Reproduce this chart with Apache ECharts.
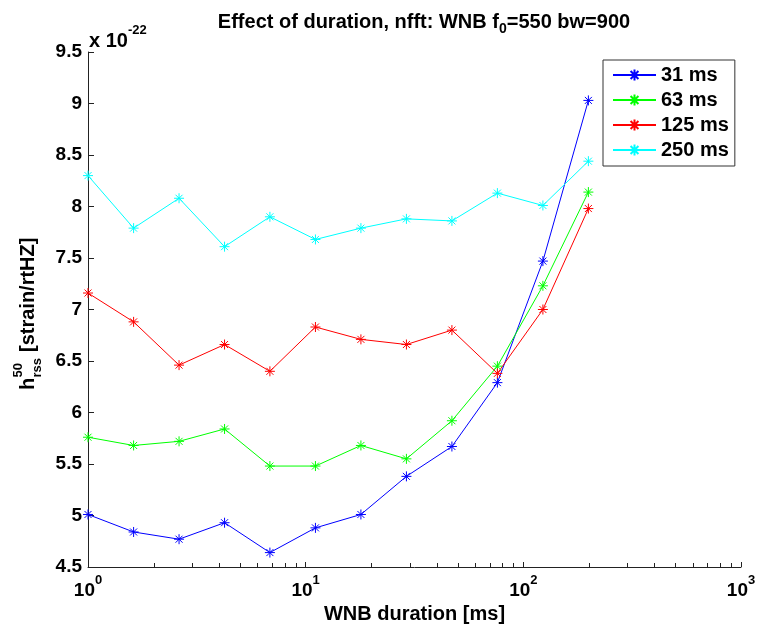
<!DOCTYPE html>
<html>
<head>
<meta charset="utf-8">
<script src="https://cdn.jsdelivr.net/npm/echarts@6/dist/echarts.min.js"></script>
<style>
html,body{margin:0;padding:0;background:#fff;}
#chart{width:758px;height:627px;}
</style>
</head>
<body>
<div id="chart"></div>
<script>
// WNB duration [ms]
const durations = [1, 1.62, 2.62, 4.24, 6.85, 11.09, 17.94, 29.03, 46.98, 76.01, 122.99, 199.01];
// h_rss^50 in units of 1e-22 strain/rtHz
const s31  = [5.01, 4.84, 4.77, 4.93, 4.64, 4.88, 5.01, 5.38, 5.67, 6.29, 7.47, 9.03];
const s63  = [5.76, 5.68, 5.72, 5.84, 5.48, 5.48, 5.68, 5.55, 5.92, 6.45, 7.23, 8.14];
const s125 = [7.16, 6.88, 6.46, 6.66, 6.40, 6.83, 6.71, 6.66, 6.80, 6.38, 7.00, 7.98];
const s250 = [8.30, 7.79, 8.08, 7.61, 7.90, 7.68, 7.79, 7.88, 7.86, 8.13, 8.01, 8.44];
const seriesNames = ['31 ms', '63 ms', '125 ms', '250 ms'];
const seriesColors = ['#0000ff', '#00ff00', '#ff0000', '#00ffff'];
const minorTickValues = [2,3,4,5,6,7,8,9,20,30,40,50,60,70,80,90,200,300,400,500,600,700,800,900];

const FONT = '"Liberation Sans", Arial, sans-serif';
const ASTERISK = 'path://M5 0L5 10M0 5L10 5M1.5 1.5L8.5 8.5M8.5 1.5L1.5 8.5';

const chart = echarts.init(document.getElementById('chart'), null, {renderer: 'canvas'});

function mkSeries(name, vals, color) {
  return {
    name: name,
    type: 'line',
    data: durations.map((d, i) => [d, vals[i]]),
    symbol: ASTERISK,
    symbolSize: 10,
    showAllSymbol: true,
    color: color,
    lineStyle: {color: color, width: 1},
    itemStyle: {color: color, borderColor: color, borderWidth: 1},
    emphasis: {disabled: true},
    animation: false,
    z: 3
  };
}

const option = {
  animation: false,
  backgroundColor: '#fff',
  title: {
    text: '{a|Effect of duration, nfft: WNB f}{s|0}{a|=550 bw=900}',
    left: 419,
    textAlign: 'center',
    top: 7,
    textStyle: {
      rich: {
        a: {fontFamily: FONT, fontSize: 20, fontWeight: 'bold', color: '#000', lineHeight: 20, verticalAlign: 'top'},
        s: {fontFamily: FONT, fontSize: 14, fontWeight: 'bold', color: '#000', lineHeight: 24, verticalAlign: 'bottom'}
      }
    }
  },
  grid: {left: 88, right: 17, top: 52, bottom: 60, containLabel: false, outerBoundsMode: 'none'},
  legend: {
    data: seriesNames,
    orient: 'vertical',
    left: 603,
    top: 60,
    padding: [5, 6, 6, 9],
    itemWidth: 43,
    itemHeight: 14,
    itemGap: 5,
    itemTextGap: 5,
    borderColor: '#333',
    borderWidth: 1,
    borderRadius: 0,
    backgroundColor: '#fff',
    textStyle: {fontFamily: FONT, fontSize: 20, fontWeight: 'bold', color: '#000', lineHeight: 20}
  },
  xAxis: {
    type: 'log',
    logBase: 10,
    min: 1,
    max: 1000,
    name: 'WNB duration [ms]',
    nameLocation: 'middle',
    nameGap: 30,
    nameTextStyle: {fontFamily: FONT, fontSize: 20, fontWeight: 'bold', color: '#000'},
    axisLine: {lineStyle: {color: '#222', width: 1}},
    axisTick: {inside: true, length: 5, lineStyle: {color: '#222'}},
    splitLine: {show: false},
    axisLabel: {
      margin: 7,
      formatter: function (v) {
        return '{b|10}{p|' + Math.round(Math.log10(v)) + '}';
      },
      rich: {
        b: {fontFamily: FONT, fontSize: 19, fontWeight: 'bold', color: '#000', lineHeight: 26, verticalAlign: 'bottom'},
        p: {fontFamily: FONT, fontSize: 13, fontWeight: 'bold', color: '#000', lineHeight: 13, verticalAlign: 'top'}
      }
    }
  },
  yAxis: {
    type: 'value',
    min: 4.5,
    max: 9.5,
    interval: 0.5,
    axisLine: {show: true, lineStyle: {color: '#222', width: 1}},
    axisTick: {show: true, inside: true, length: 6, lineStyle: {color: '#222'}},
    splitLine: {show: false},
    axisLabel: {margin: 6, fontFamily: FONT, fontSize: 19, fontWeight: 'bold', color: '#000'}
  },
  graphic: [
    {
      type: 'text',
      left: 89,
      top: 24,
      style: {
        text: '{b|x 10}{p|-22}',
        rich: {
          b: {fontFamily: FONT, fontSize: 20, fontWeight: 'bold', fill: '#000', lineHeight: 27, verticalAlign: 'bottom'},
          p: {fontFamily: FONT, fontSize: 13, fontWeight: 'bold', fill: '#000', lineHeight: 13, verticalAlign: 'top'}
        }
      }
    },
    {
      type: 'group',
      x: 28,
      y: 390,
      rotation: Math.PI / 2,
      children: [
        {type: 'text', x: 0, y: 0, style: {text: 'h', font: 'bold 20px ' + FONT, fill: '#000', verticalAlign: 'middle', align: 'left'}},
        {type: 'text', x: 12.5, y: -10, style: {text: '50', font: 'bold 13px ' + FONT, fill: '#000', verticalAlign: 'middle', align: 'left'}},
        {type: 'text', x: 12.5, y: 9, style: {text: 'rss', font: 'bold 13px ' + FONT, fill: '#000', verticalAlign: 'middle', align: 'left'}},
        {type: 'text', x: 38, y: 0, style: {text: '[strain/rtHZ]', font: 'bold 20px ' + FONT, fill: '#000', verticalAlign: 'middle', align: 'left'}}
      ]
    }
  ],
  series: [
    mkSeries(seriesNames[0], s31, seriesColors[0]),
    mkSeries(seriesNames[1], s63, seriesColors[1]),
    mkSeries(seriesNames[2], s125, seriesColors[2]),
    mkSeries(seriesNames[3], s250, seriesColors[3]),
    {
      name: 'minorTicks',
      type: 'custom',
      silent: true,
      animation: false,
      data: minorTickValues.map(v => [v, 4.5]),
      encode: {x: 0, y: 1},
      renderItem: function (params, api) {
        const p = api.coord([api.value(0), api.value(1)]);
        const x = Math.round(p[0]) + 0.5;
        const y = Math.round(p[1]);
        return {
          type: 'line',
          shape: {x1: x, y1: y, x2: x, y2: y - 4},
          style: {stroke: '#222', lineWidth: 1}
        };
      },
      z: 2
    }
  ]
};
chart.setOption(option);
</script>
</body>
</html>
